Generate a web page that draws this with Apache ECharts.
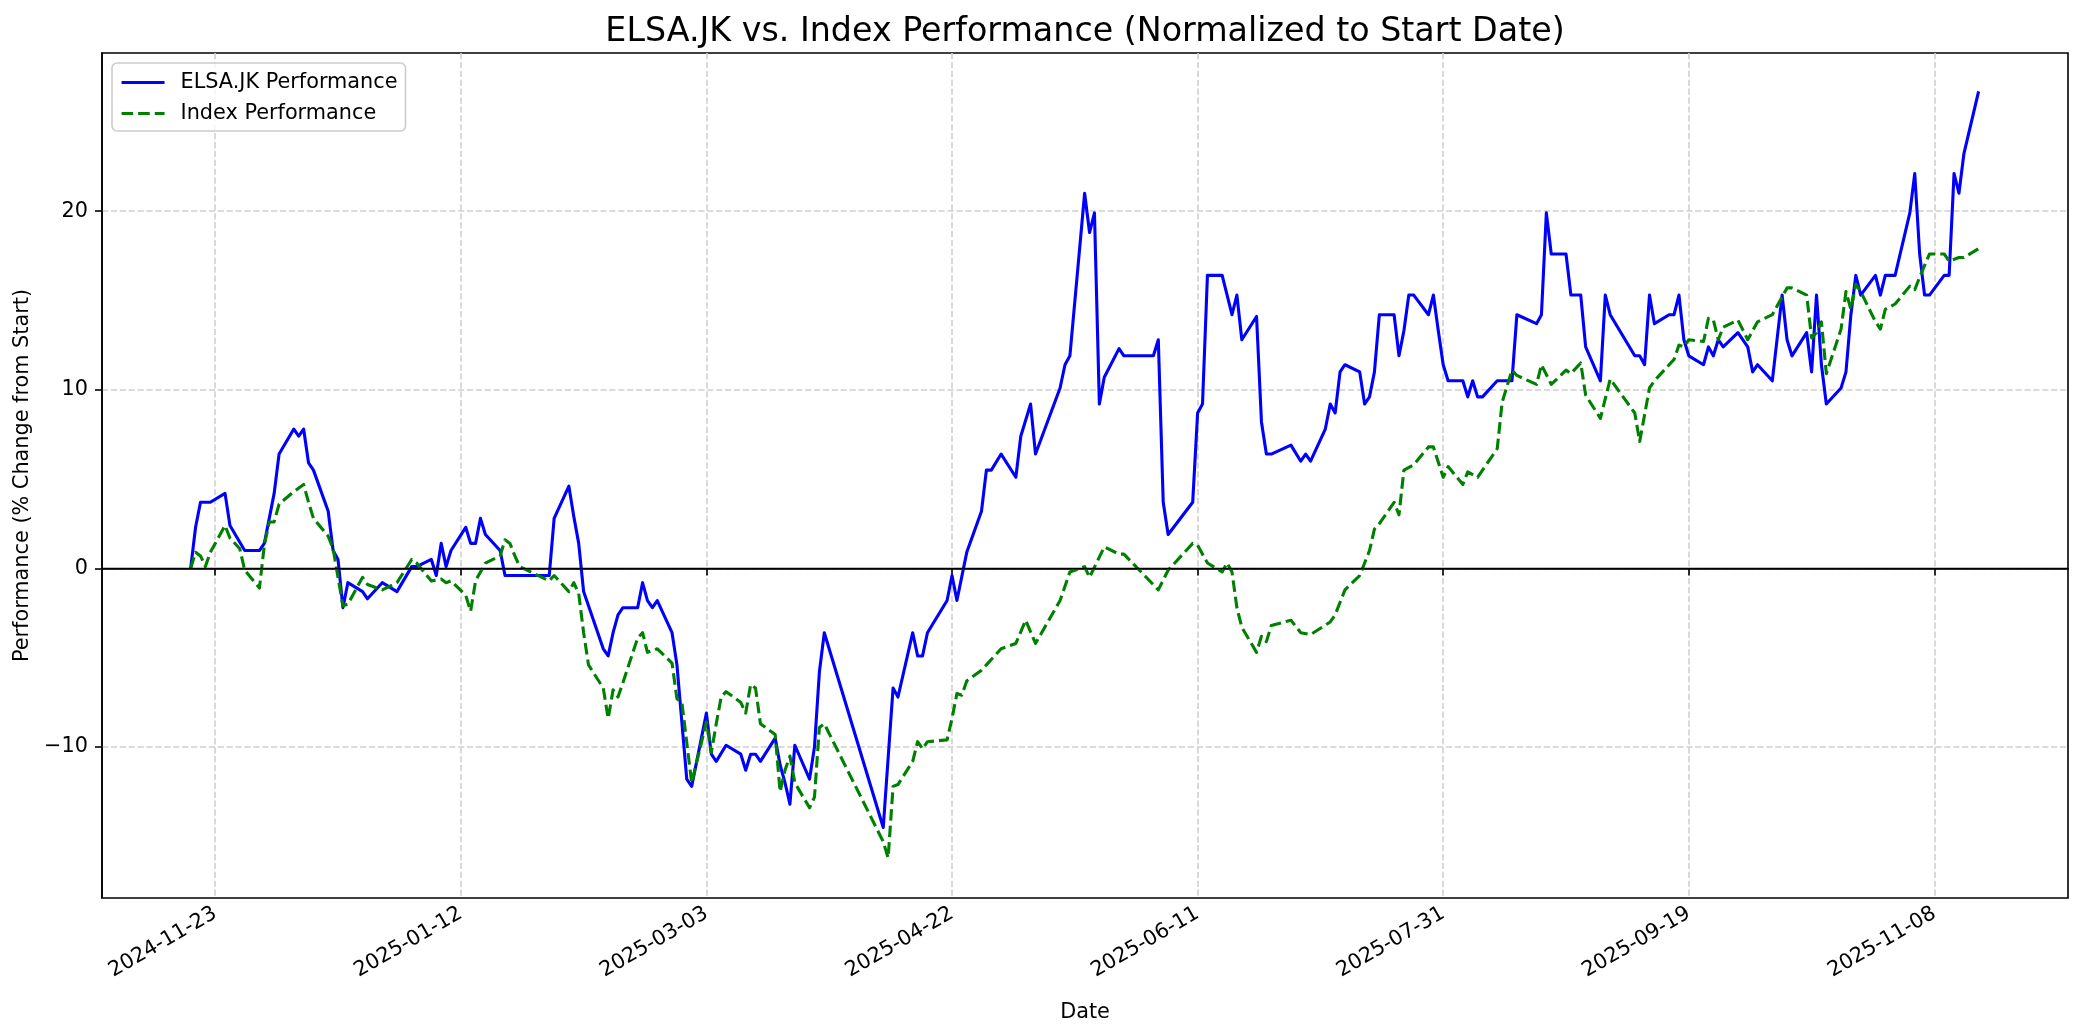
<!DOCTYPE html>
<html>
<head>
<meta charset="utf-8">
<script src="https://cdn.jsdelivr.net/npm/echarts@6/dist/echarts.min.js"></script>
<style>
html,body{margin:0;padding:0;background:#fff;}
#chart{width:2084px;height:1035px;}
</style>
</head>
<body>
<div id="chart"></div>
<script>
const elsaDates = ['2024-11-18','2024-11-19','2024-11-20','2024-11-22','2024-11-25','2024-11-26','2024-11-29','2024-12-02','2024-12-03','2024-12-05','2024-12-06','2024-12-09','2024-12-10','2024-12-11','2024-12-12','2024-12-13','2024-12-16','2024-12-17','2024-12-18','2024-12-19','2024-12-20','2024-12-23','2024-12-24','2024-12-27','2024-12-30','2025-01-02','2025-01-03','2025-01-06','2025-01-07','2025-01-08','2025-01-09','2025-01-10','2025-01-13','2025-01-14','2025-01-15','2025-01-16','2025-01-17','2025-01-20','2025-01-21','2025-01-30','2025-01-31','2025-02-03','2025-02-04','2025-02-05','2025-02-06','2025-02-10','2025-02-11','2025-02-12','2025-02-13','2025-02-14','2025-02-17','2025-02-18','2025-02-19','2025-02-20','2025-02-21','2025-02-24','2025-02-25','2025-02-27','2025-02-28','2025-03-03','2025-03-04','2025-03-05','2025-03-07','2025-03-10','2025-03-11','2025-03-12','2025-03-13','2025-03-14','2025-03-17','2025-03-18','2025-03-19','2025-03-20','2025-03-21','2025-03-24','2025-03-25','2025-03-26','2025-03-27','2025-04-08','2025-04-10','2025-04-11','2025-04-14','2025-04-15','2025-04-16','2025-04-17','2025-04-21','2025-04-22','2025-04-23','2025-04-25','2025-04-28','2025-04-29','2025-04-30','2025-05-02','2025-05-05','2025-05-06','2025-05-08','2025-05-09','2025-05-14','2025-05-15','2025-05-16','2025-05-19','2025-05-20','2025-05-21','2025-05-22','2025-05-23','2025-05-26','2025-05-27','2025-06-02','2025-06-03','2025-06-04','2025-06-05','2025-06-10','2025-06-11','2025-06-12','2025-06-13','2025-06-16','2025-06-18','2025-06-19','2025-06-20','2025-06-23','2025-06-24','2025-06-25','2025-06-26','2025-06-30','2025-07-02','2025-07-03','2025-07-04','2025-07-07','2025-07-08','2025-07-09','2025-07-10','2025-07-11','2025-07-14','2025-07-15','2025-07-16','2025-07-17','2025-07-18','2025-07-21','2025-07-22','2025-07-23','2025-07-24','2025-07-25','2025-07-28','2025-07-29','2025-07-30','2025-07-31','2025-08-01','2025-08-04','2025-08-05','2025-08-06','2025-08-07','2025-08-08','2025-08-11','2025-08-14','2025-08-15','2025-08-19','2025-08-20','2025-08-21','2025-08-22','2025-08-25','2025-08-26','2025-08-28','2025-08-29','2025-09-01','2025-09-02','2025-09-03','2025-09-08','2025-09-09','2025-09-10','2025-09-11','2025-09-12','2025-09-15','2025-09-16','2025-09-17','2025-09-18','2025-09-19','2025-09-22','2025-09-23','2025-09-24','2025-09-25','2025-09-26','2025-09-29','2025-10-01','2025-10-02','2025-10-03','2025-10-06','2025-10-08','2025-10-09','2025-10-10','2025-10-13','2025-10-14','2025-10-15','2025-10-16','2025-10-17','2025-10-20','2025-10-21','2025-10-22','2025-10-23','2025-10-24','2025-10-27','2025-10-28','2025-10-29','2025-10-31','2025-11-03','2025-11-04','2025-11-05','2025-11-06','2025-11-07','2025-11-10','2025-11-11','2025-11-12','2025-11-13','2025-11-14','2025-11-17'];
const elsaValues = [0,2.3,3.7,3.7,4.2,2.4,1.0,1.0,1.4,4.2,6.4,7.8,7.4,7.8,5.9,5.5,3.2,1.0,0.5,-2.2,-0.8,-1.3,-1.7,-0.8,-1.3,0.1,0.1,0.5,-0.4,1.4,0.1,1.0,2.3,1.4,1.4,2.8,1.9,1.0,-0.4,-0.4,2.8,4.6,2.9,1.4,-1.3,-4.5,-4.9,-3.6,-2.6,-2.2,-2.2,-0.8,-1.8,-2.2,-1.8,-3.6,-5.4,-11.8,-12.2,-8.1,-10.4,-10.8,-9.9,-10.4,-11.3,-10.4,-10.4,-10.8,-9.5,-11.0,-12.0,-13.2,-9.9,-11.8,-10.0,-5.8,-3.6,-14.5,-6.7,-7.2,-3.6,-4.9,-4.9,-3.6,-1.8,-0.4,-1.8,0.9,3.2,5.5,5.5,6.4,5.1,7.4,9.2,6.4,10.1,11.4,11.9,21.0,18.8,19.9,9.2,10.7,12.3,11.9,11.9,12.8,3.7,1.9,3.7,8.7,9.2,16.4,16.4,14.2,15.3,12.8,14.1,8.2,6.4,6.4,6.9,6.0,6.4,6.0,7.8,9.2,8.7,11.0,11.4,11.0,9.2,9.6,11.0,14.2,14.2,11.9,13.3,15.3,15.3,14.2,15.3,13.3,11.4,10.5,10.5,9.6,10.5,9.6,9.6,10.5,10.5,14.2,13.7,14.2,19.9,17.6,17.6,15.3,15.3,12.4,10.5,15.3,14.2,11.9,11.9,11.4,15.3,13.7,14.2,14.2,15.3,12.8,11.9,11.4,12.4,11.9,12.8,12.4,13.2,12.4,11.0,11.4,10.5,15.3,12.8,11.9,13.2,11.0,15.3,11.4,9.2,10.1,11.0,14.2,16.4,15.3,16.4,15.3,16.4,16.4,19.9,22.1,17.6,15.3,15.3,16.4,16.4,22.1,21.0,23.2,26.7];

const indexDates = ['2024-11-18','2024-11-19','2024-11-20','2024-11-21','2024-11-22','2024-11-25','2024-11-26','2024-11-28','2024-11-29','2024-12-02','2024-12-03','2024-12-04','2024-12-05','2024-12-06','2024-12-09','2024-12-11','2024-12-12','2024-12-13','2024-12-16','2024-12-17','2024-12-19','2024-12-20','2024-12-23','2024-12-24','2024-12-27','2024-12-30','2025-01-02','2025-01-03','2025-01-06','2025-01-08','2025-01-09','2025-01-10','2025-01-13','2025-01-14','2025-01-15','2025-01-17','2025-01-20','2025-01-21','2025-01-22','2025-01-23','2025-01-24','2025-01-30','2025-01-31','2025-02-03','2025-02-04','2025-02-05','2025-02-06','2025-02-07','2025-02-10','2025-02-11','2025-02-12','2025-02-13','2025-02-14','2025-02-17','2025-02-18','2025-02-19','2025-02-21','2025-02-24','2025-02-25','2025-02-26','2025-02-28','2025-03-03','2025-03-04','2025-03-05','2025-03-06','2025-03-07','2025-03-10','2025-03-11','2025-03-12','2025-03-13','2025-03-14','2025-03-17','2025-03-18','2025-03-19','2025-03-20','2025-03-21','2025-03-24','2025-03-25','2025-03-26','2025-03-27','2025-04-08','2025-04-09','2025-04-10','2025-04-11','2025-04-14','2025-04-15','2025-04-16','2025-04-17','2025-04-21','2025-04-22','2025-04-23','2025-04-24','2025-04-25','2025-04-28','2025-04-29','2025-05-02','2025-05-05','2025-05-07','2025-05-09','2025-05-14','2025-05-16','2025-05-19','2025-05-20','2025-05-23','2025-05-26','2025-05-27','2025-06-03','2025-06-05','2025-06-10','2025-06-11','2025-06-13','2025-06-16','2025-06-17','2025-06-18','2025-06-19','2025-06-20','2025-06-23','2025-06-24','2025-06-25','2025-06-26','2025-06-30','2025-07-02','2025-07-04','2025-07-08','2025-07-09','2025-07-11','2025-07-14','2025-07-15','2025-07-16','2025-07-17','2025-07-18','2025-07-21','2025-07-22','2025-07-23','2025-07-25','2025-07-28','2025-07-29','2025-07-31','2025-08-01','2025-08-04','2025-08-05','2025-08-07','2025-08-08','2025-08-11','2025-08-12','2025-08-14','2025-08-15','2025-08-19','2025-08-20','2025-08-22','2025-08-25','2025-08-26','2025-08-28','2025-08-29','2025-09-01','2025-09-03','2025-09-08','2025-09-09','2025-09-11','2025-09-12','2025-09-15','2025-09-16','2025-09-17','2025-09-18','2025-09-19','2025-09-22','2025-09-23','2025-09-24','2025-09-25','2025-09-26','2025-09-29','2025-10-01','2025-10-03','2025-10-06','2025-10-09','2025-10-10','2025-10-13','2025-10-14','2025-10-15','2025-10-16','2025-10-17','2025-10-20','2025-10-21','2025-10-22','2025-10-23','2025-10-24','2025-10-27','2025-10-28','2025-10-29','2025-10-31','2025-11-03','2025-11-04','2025-11-05','2025-11-07','2025-11-10','2025-11-11','2025-11-13','2025-11-14','2025-11-17'];
const indexValues = [0,0.9,0.7,0.1,0.9,2.4,1.7,1.1,-0.1,-1.1,1.3,2.6,2.6,3.6,4.3,4.7,3.7,2.8,1.8,1.1,-2.1,-2.0,-0.5,-0.9,-1.2,-0.8,0.5,0.3,-0.7,-0.6,-0.8,-0.7,-1.5,-2.4,-0.7,0.3,0.7,1.6,1.4,0.7,0.1,-0.7,-0.4,-1.3,-0.8,-1.4,-3.6,-5.4,-6.7,-8.4,-6.8,-7.2,-6.4,-3.9,-3.6,-4.7,-4.5,-5.3,-7.3,-7.5,-12.0,-8.6,-10.3,-8.7,-7.2,-6.9,-7.5,-8.1,-6.5,-6.7,-8.7,-9.3,-12.5,-11.3,-10.5,-12.0,-13.4,-12.8,-8.9,-8.7,-15.3,-16.2,-12.2,-12.1,-10.8,-9.7,-10.1,-9.7,-9.6,-8.4,-7.0,-7.1,-6.3,-5.7,-5.4,-4.5,-4.2,-2.9,-4.2,-1.8,-0.2,0.1,-0.5,1.2,0.8,0.8,-1.2,-0.1,1.4,1.3,0.3,-0.2,0.3,-0.2,-2.2,-3.3,-4.7,-3.8,-4.1,-3.2,-2.9,-3.6,-3.7,-3.0,-2.6,-1.2,-0.4,0.3,1.0,2.2,2.5,3.7,3.0,5.5,5.8,6.8,6.8,5.1,5.7,4.7,5.4,5.1,5.5,6.7,9.3,11.1,10.8,10.3,11.4,10.3,11.1,10.9,11.5,9.7,8.4,10.6,8.7,7.1,10.1,10.5,11.4,11.7,12.5,12.4,12.8,12.7,14.0,13.9,12.8,13.5,13.9,12.8,13.8,14.2,15.7,15.7,15.3,12.9,13.2,13.8,10.9,13.4,15.5,14.5,15.9,15.5,13.8,13.4,14.5,14.8,15.8,15.6,16.3,17.6,17.6,17.2,17.4,17.4,17.9];

const xTickDates = ['2024-11-23','2025-01-12','2025-03-03','2025-04-22','2025-06-11','2025-07-31','2025-09-19','2025-11-08'];
const yTickValues = [-10, 0, 10, 20];

const FONT = 'DejaVu Sans';
const DAY = 86400e3;
const P = s => { const [y, m, d] = s.split('-').map(Number); return Date.UTC(y, m - 1, d); };
const fmt = v => { const t = new Date(v); const p = n => String(n).padStart(2, '0');
  return t.getUTCFullYear() + '-' + p(t.getUTCMonth() + 1) + '-' + p(t.getUTCDate()); };
const xTicks = xTickDates.map(P);
const xMin = P('2024-10-31') - 0.05 * DAY;
const xMax = P('2025-12-05') + 0.2 * DAY;

const chart = echarts.init(document.getElementById('chart'), null, {renderer: 'canvas'});
chart.setOption({
  animation: false,
  backgroundColor: '#ffffff',
  title: {
    text: 'ELSA.JK vs. Index Performance (Normalized to Start Date)',
    left: 1085, top: 16, textAlign: 'center', padding: 0,
    textStyle: {fontFamily: FONT, fontSize: 33.3, fontWeight: 'normal', color: '#000'}
  },
  legend: {
    orient: 'vertical', left: 112, top: 63,
    padding: [9, 8, 7, 8], itemGap: 10, itemWidth: 43, itemHeight: 21,
    backgroundColor: 'rgba(255,255,255,0.8)', borderColor: '#cccccc', borderWidth: 1.6, borderRadius: 5,
    itemStyle: {opacity: 0},
    lineStyle: {width: 3.1},
    textStyle: {fontFamily: FONT, fontSize: 20.8, color: '#000', padding: [0, 0, 0, 11]},
    data: ['ELSA.JK Performance', 'Index Performance']
  },
  grid: {left: 102, right: 16, top: 53, bottom: 137, show: true, borderColor: '#000', borderWidth: 1.6, containLabel: false},
  xAxis: {
    type: 'value', min: xMin, max: xMax,
    name: 'Date', nameLocation: 'middle', nameGap: 104,
    nameTextStyle: {fontFamily: FONT, fontSize: 20.8, color: '#000'},
    axisLine: {show: true, lineStyle: {color: '#000', width: 1.6}},
    axisTick: {show: true, length: 7, lineStyle: {color: '#000', width: 1.6}, customValues: xTicks},
    axisLabel: {customValues: xTicks, rotate: 30, margin: 14, fontFamily: FONT, fontSize: 20.8, color: '#000',
      formatter: v => fmt(v)},
    splitLine: {show: true, lineStyle: {color: '#d0d0d0', width: 1.6, type: [6.2, 2.7]}}
  },
  yAxis: {
    type: 'value', min: -18.45, max: 28.85,
    name: 'Performance (% Change from Start)', nameLocation: 'middle', nameGap: 65, nameRotate: 90,
    nameTextStyle: {fontFamily: FONT, fontSize: 20.8, color: '#000'},
    axisLine: {show: true, lineStyle: {color: '#000', width: 1.6}},
    axisTick: {show: true, length: 7, lineStyle: {color: '#000', width: 1.6}, customValues: yTickValues},
    axisLabel: {customValues: yTickValues, margin: 14, fontFamily: FONT, fontSize: 20.8, color: '#000',
      formatter: v => String(v).replace('-', '\u2212')},
    splitLine: {show: true, lineStyle: {color: '#d0d0d0', width: 1.6, type: [6.2, 2.7]}}
  },
  series: [
    {
      name: 'ELSA.JK Performance', type: 'line', showSymbol: false, symbol: 'none',
      data: elsaDates.map((d, i) => [P(d), elsaValues[i]]),
      lineStyle: {color: '#0000ff', width: 3.1, join: 'round'},
      itemStyle: {color: '#0000ff'}, z: 3,
      markLine: {silent: true, symbol: 'none', label: {show: false}, animation: false,
        lineStyle: {color: '#000', width: 1.3, type: 'solid'}, data: [{yAxis: 0}]}
    },
    {
      name: 'Index Performance', type: 'line', showSymbol: false, symbol: 'none',
      data: indexDates.map((d, i) => [P(d), indexValues[i]]),
      lineStyle: {color: '#008000', width: 3.1, type: [11.6, 5], join: 'round'},
      itemStyle: {color: '#008000'}, z: 3
    }
  ]
});
</script>
</body>
</html>
